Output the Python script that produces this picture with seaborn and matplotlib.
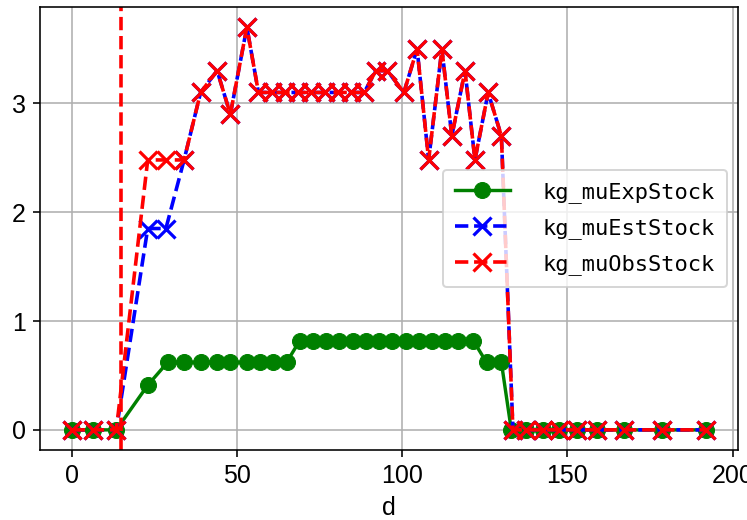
"""
Stock comparison chart: expected / estimated / observed stock over days.
"""

import matplotlib
matplotlib.use('Agg')
import matplotlib.pyplot as plt
import seaborn as sns

# expected stock (green)
exp_days = [0, 6.5, 13.5, 23, 29, 34, 39, 44, 48, 53, 57, 61, 65,
            69, 73, 77, 81, 85, 89, 93, 97, 101, 105, 109, 113, 117, 121.5,
            125.5, 130, 133, 137.5, 142.5, 147.5, 153, 159, 167, 178.5, 192]
exp_stock = [0, 0, 0, 0.41, 0.62, 0.62, 0.62, 0.62, 0.62, 0.62, 0.62, 0.62, 0.62,
             0.82, 0.82, 0.82, 0.82, 0.82, 0.82, 0.82, 0.82, 0.82, 0.82, 0.82, 0.82, 0.82, 0.82,
             0.62, 0.62, 0, 0, 0, 0, 0, 0, 0, 0, 0]

# estimated / observed stock (blue / red) share the same days
obs_days = [0, 6.5, 13.5, 23, 28.5, 34, 39, 44, 48, 53,
            56.5, 60.5, 64.5, 68.5, 72.5, 76.5, 80.5, 84.5, 88.5,
            92, 95.5, 100.5, 104.5, 108, 112, 115, 119, 122, 126, 130,
            133.5, 137.5, 142.5, 147.5, 153, 159, 167, 178.5, 192]
est_stock = [0, 0, 0, 1.85, 1.85, 2.48, 3.1, 3.3, 2.9, 3.7,
             3.1, 3.1, 3.1, 3.1, 3.1, 3.1, 3.1, 3.1, 3.1,
             3.3, 3.3, 3.1, 3.5, 2.48, 3.5, 2.7, 3.3, 2.48, 3.1, 2.7,
             0, 0, 0, 0, 0, 0, 0, 0, 0]
obs_stock = [0, 0, 0, 2.48, 2.48, 2.48, 3.1, 3.3, 2.9, 3.7,
             3.1, 3.1, 3.1, 3.1, 3.1, 3.1, 3.1, 3.1, 3.1,
             3.3, 3.3, 3.1, 3.5, 2.48, 3.5, 2.7, 3.3, 2.48, 3.1, 2.7,
             0, 0, 0, 0, 0, 0, 0, 0, 0]

cutoff_day = 15

plt.rcParams['font.family'] = ['Liberation Sans', 'DejaVu Sans']
plt.rcParams['font.size'] = 12.5

fig, ax = plt.subplots(figsize=(747 / 144, 520 / 144), dpi=144)
fig.subplots_adjust(left=0.0535, right=0.988, top=0.9865, bottom=0.1346)

sns.lineplot(x=exp_days, y=exp_stock, ax=ax, color='green', marker='o',
             markersize=8, markeredgecolor='green', markeredgewidth=0.5,
             linewidth=1.7, estimator=None, label='kg_muExpStock')
sns.lineplot(x=obs_days, y=est_stock, ax=ax, color='blue', marker='x',
             markersize=9, markeredgecolor='blue', markeredgewidth=1.6,
             linewidth=1.8, linestyle='--', estimator=None, label='kg_muEstStock')
sns.lineplot(x=obs_days, y=obs_stock, ax=ax, color='red', marker='x',
             markersize=9, markeredgecolor='red', markeredgewidth=1.6,
             linewidth=1.8, linestyle='--', estimator=None, label='kg_muObsStock')
ax.axvline(cutoff_day, color='red', linestyle='--', linewidth=1.8)

ax.grid(True, color='#b0b0b0', linewidth=0.8)
ax.set_xlabel('d')
ax.set_ylabel('')
ax.set_xticks([0, 50, 100, 150, 200])
ax.set_yticks([0, 1, 2, 3])
ax.tick_params(labelsize=12.5)

leg = ax.legend(loc='center right', prop={'family': 'DejaVu Sans Mono', 'size': 11},
                handlelength=2.5, handletextpad=1.5, labelspacing=0.68,
                borderpad=0.55)

plt.savefig('out.png', dpi=144)
plt.close()
